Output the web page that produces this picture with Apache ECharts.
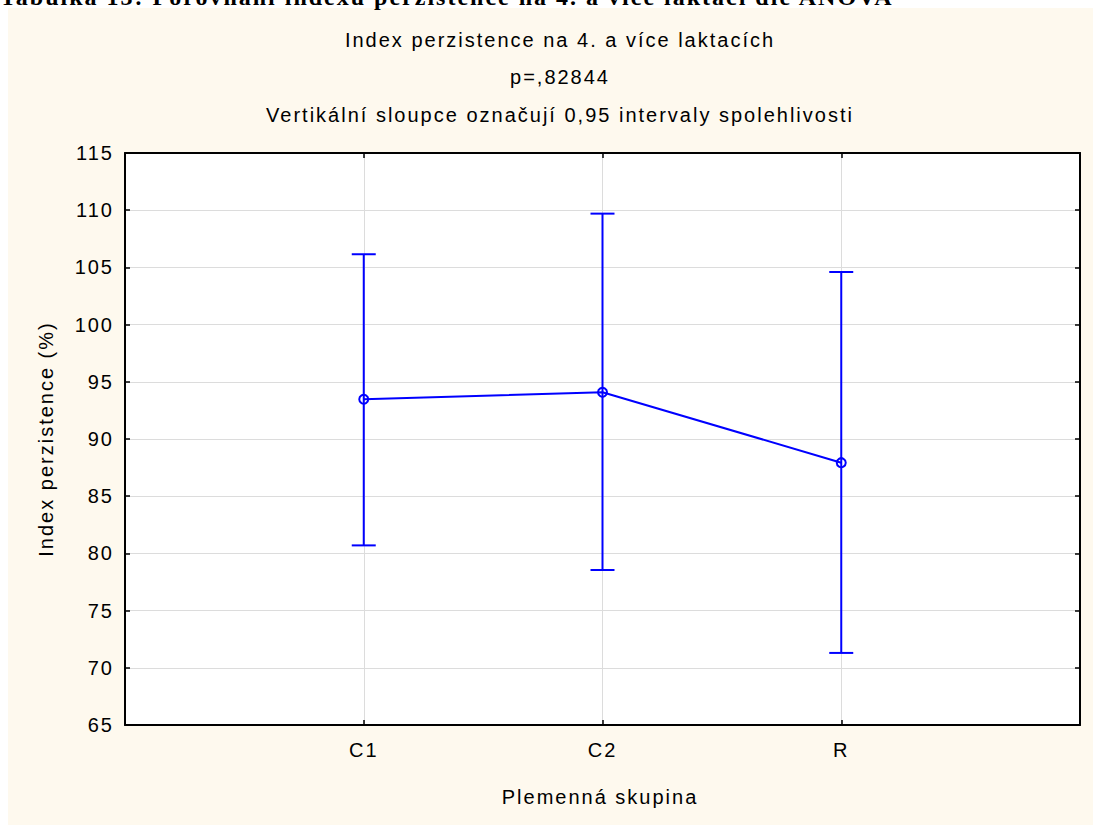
<!DOCTYPE html>
<html>
<head>
<meta charset="utf-8">
<script src="https://cdn.jsdelivr.net/npm/echarts@6/dist/echarts.min.js"></script>
<style>
html,body{margin:0;padding:0;background:#ffffff;}
#chart{width:1093px;height:825px;}
#chart svg text{letter-spacing:2px !important;}
</style>
</head>
<body>
<div id="chart"></div>
<script>
// ---- data ----
const categories = ['C1', 'C2', 'R'];
const means = [93.47, 94.08, 87.93];
const lowerCI = [80.7, 78.55, 71.3];
const upperCI = [106.15, 109.7, 104.6];
const yTicks = [65, 70, 75, 80, 85, 90, 95, 100, 105, 110, 115];

const titleLines = [
  'Index perzistence na 4. a více laktacích',
  'p=,82844',
  'Vertikální sloupce označují 0,95 intervaly spolehlivosti'
];
const header = 'Tabulka 13: Porovnání indexu perzistence na 4. a více laktací dle ANOVA';
const xName = 'Plemenná skupina';
const yName = 'Index perzistence (%)';

// ---- chart ----
const font = '"Liberation Sans", Arial, sans-serif';
const blue = '#0000FF';
const chart = echarts.init(document.getElementById('chart'), null, {renderer: 'svg'});

const pos = categories.map((c, i) => i + 1);
const meanData = means.map((m, i) => [pos[i], m]);
const errData = means.map((m, i) => [pos[i], lowerCI[i], upperCI[i]]);

function axisCommon(extra) {
  return Object.assign({
    axisLine: {show: true, onZero: false, lineStyle: {color: '#000', width: 2}},
    axisTick: {show: true, inside: true, length: 5, lineStyle: {color: '#000', width: 1.5}},
    splitLine: {show: true, lineStyle: {color: '#dcdcdc', width: 1}},
    axisLabel: {show: false}
  }, extra);
}

function txt(s, x, y, extra) {
  return Object.assign({type: 'text', x: x, y: y,
    style: {text: s, font: '20px ' + font, fill: '#000', align: 'center', verticalAlign: 'middle'}}, extra || {});
}

const option = {
  backgroundColor: '#ffffff',
  animation: false,
  graphic: [
    {type: 'rect', z: -10, shape: {x: 8, y: 8, width: 1085, height: 817}, style: {fill: '#FEF9EE'}},
    {type: 'text', x: 0, y: -3, style: {text: header, font: 'bold 24px "Liberation Serif", "Times New Roman", serif', fill: '#000', align: 'left', verticalAlign: 'middle'}},
    txt(titleLines[0], 560, 40),
    txt(titleLines[1], 560, 77),
    txt(titleLines[2], 560, 115),
    txt(xName, 600, 797),
    txt(yName, 46, 439, {rotation: Math.PI / 2})
  ],
  grid: {left: 125, right: 13, top: 153, bottom: 100, show: true, backgroundColor: '#ffffff', borderWidth: 0},
  xAxis: [
    axisCommon({
      type: 'value', min: 0, max: categories.length + 1, interval: 1, position: 'bottom',
      axisLabel: {show: true, margin: 15, color: '#000', fontSize: 20, fontFamily: font,
        formatter: v => categories[v - 1] || ''}
    }),
    axisCommon({
      type: 'value', min: 0, max: categories.length + 1, interval: 1, position: 'top',
      splitLine: {show: false}
    })
  ],
  yAxis: [
    axisCommon({
      type: 'value', min: yTicks[0], max: yTicks[yTicks.length - 1], interval: 5, position: 'left',
      axisLabel: {show: true, margin: 11, color: '#000', fontSize: 20, fontFamily: font}
    }),
    axisCommon({
      type: 'value', min: yTicks[0], max: yTicks[yTicks.length - 1], interval: 5, position: 'right',
      splitLine: {show: false}
    })
  ],
  series: [
    {
      type: 'custom',
      xAxisIndex: 0, yAxisIndex: 0,
      data: errData,
      z: 3,
      renderItem: function (params, api) {
        const x = api.value(0);
        const lo = api.coord([x, api.value(1)]);
        const hi = api.coord([x, api.value(2)]);
        const hw = 12;
        const st = {stroke: blue, lineWidth: 2};
        return {
          type: 'group',
          children: [
            {type: 'line', shape: {x1: lo[0], y1: lo[1], x2: hi[0], y2: hi[1]}, style: st},
            {type: 'line', shape: {x1: lo[0] - hw, y1: lo[1], x2: lo[0] + hw, y2: lo[1]}, style: st},
            {type: 'line', shape: {x1: hi[0] - hw, y1: hi[1], x2: hi[0] + hw, y2: hi[1]}, style: st}
          ]
        };
      }
    },
    {
      type: 'line',
      xAxisIndex: 0, yAxisIndex: 0,
      data: meanData,
      z: 4,
      symbol: 'circle',
      symbolSize: 9,
      showSymbol: true,
      lineStyle: {color: blue, width: 2},
      itemStyle: {color: 'rgba(255,255,255,0)', borderColor: blue, borderWidth: 2}
    }
  ]
};
chart.setOption(option);
</script>
</body>
</html>
